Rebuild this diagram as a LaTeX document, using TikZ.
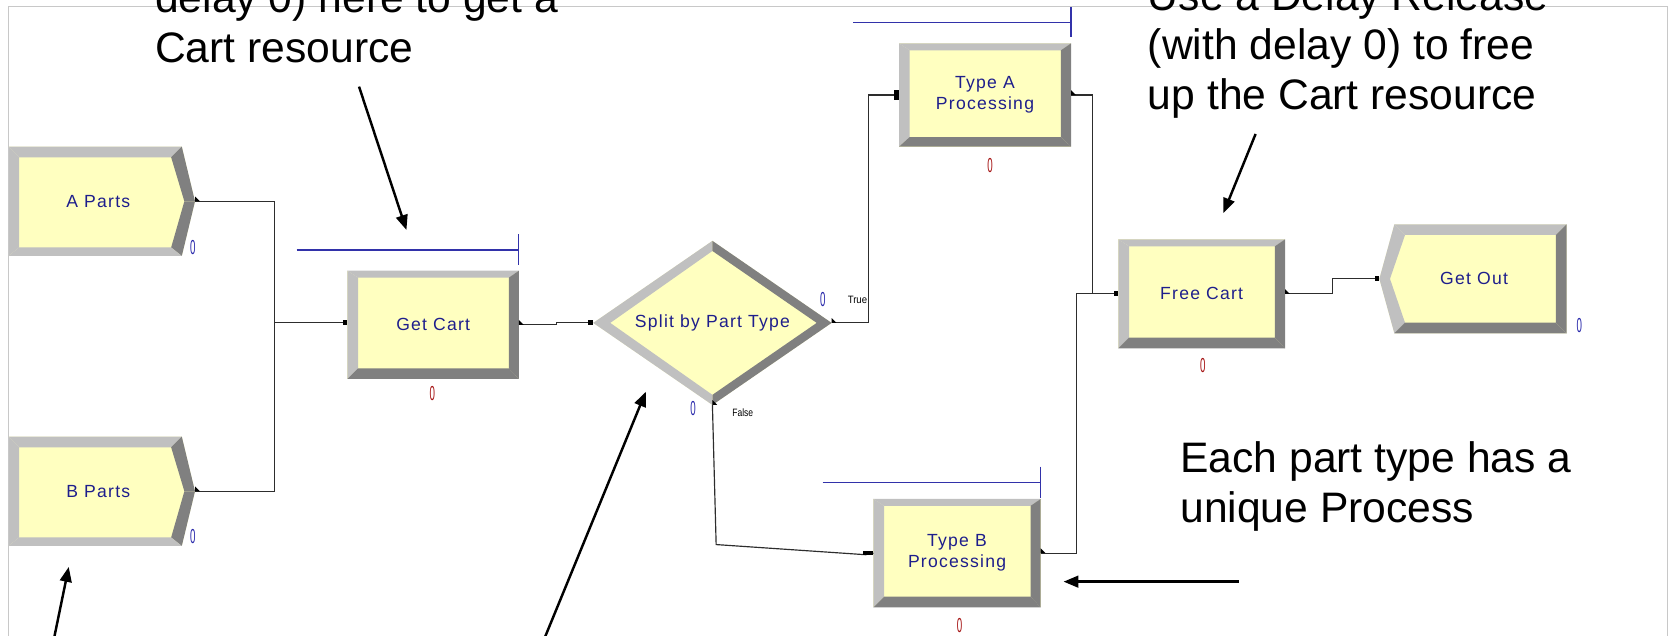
\documentclass[tikz,border=0pt]{standalone}
\usepackage{fontspec}
\usepackage{graphicx}
\setmainfont{Liberation Sans}
\newfontfamily\modfont[LetterSpace=7]{Liberation Sans}
\usetikzlibrary{shapes.geometric,arrows.meta}
\pgfdeclarelayer{bg}
\pgfsetlayers{bg,main}
\definecolor{modyellow}{RGB}{255,255,192}
\definecolor{bevlight}{RGB}{192,192,192}
\definecolor{bevdark}{RGB}{128,128,128}
\definecolor{labblue}{RGB}{30,30,140}
\definecolor{cntblue}{RGB}{40,40,170}
\definecolor{cntred}{RGB}{165,20,20}
\definecolor{qblue}{RGB}{50,50,170}
\definecolor{conn}{RGB}{45,45,45}
\definecolor{framegray}{RGB}{200,200,200}
\tikzset{
  module/.style={shape=rectangle, inner sep=0pt, outer sep=0pt,
    font=\modfont\fontsize{16.5}{19.6}\selectfont, text=labblue, align=center},
  decmodule/.style={shape=diamond, aspect=1.45, inner sep=0pt, outer sep=0pt,
    font=\modfont\fontsize{16.5}{19.6}\selectfont, text=labblue},
  counter/.style={inner sep=0pt, font=\fontsize{19}{19}\selectfont},
  connector/.style={draw=conn, line width=1.1pt},
  qline/.style={draw=qblue, line width=1.1pt},
  annot/.style={inner sep=0pt, anchor=base west, font=\fontsize{40}{47}\selectfont},
  callout/.style={draw=black, line width=2.3pt, -{Triangle[length=14pt,width=11pt]}},
  branchlabel/.style={inner sep=0pt, font=\fontsize{10}{10}\selectfont},
}
\newcommand{\zero}{\scalebox{0.48}[1]{0}}
% process box bevel: #1 node, #2 left, #3 top, #4 right, #5 bottom
\newcommand{\bevrect}[5]{%
  \fill[modyellow] (#1.north west) rectangle (#1.south east);
  \fill[bevlight] (#1.north west) -- (#1.north east) -- ([shift={(-#4,#3)}]#1.north east) -- ([shift={(#2,#3)}]#1.north west) -- cycle;
  \fill[bevlight] (#1.north west) -- ([shift={(#2,#3)}]#1.north west) -- ([shift={(#2,-#5)}]#1.south west) -- (#1.south west) -- cycle;
  \fill[bevdark] (#1.north east) -- (#1.south east) -- ([shift={(-#4,-#5)}]#1.south east) -- ([shift={(-#4,#3)}]#1.north east) -- cycle;
  \fill[bevdark] (#1.south west) -- (#1.south east) -- ([shift={(-#4,-#5)}]#1.south east) -- ([shift={(#2,-#5)}]#1.south west) -- cycle;
}
% create module (point to the right): #1 node, #2 point length
\newcommand{\bevcreate}[2]{%
  \fill[modyellow] (#1.north west) -- (#1.north east) -- ([shift={(#2,0)}]#1.east) -- (#1.south east) -- (#1.south west) -- cycle;
  \fill[bevlight] (#1.north west) -- (#1.north east) -- ([shift={(-10,10)}]#1.north east) -- ([shift={(10,10)}]#1.north west) -- cycle;
  \fill[bevlight] (#1.north west) -- ([shift={(10,10)}]#1.north west) -- ([shift={(10,-8)}]#1.south west) -- (#1.south west) -- cycle;
  \fill[bevdark] (#1.north east) -- ([shift={(#2,0)}]#1.east) -- ([shift={(#2-10,0)}]#1.east) -- ([shift={(-10,10)}]#1.north east) -- cycle;
  \fill[bevdark] ([shift={(#2,0)}]#1.east) -- (#1.south east) -- ([shift={(-10,-8)}]#1.south east) -- ([shift={(#2-10,0)}]#1.east) -- cycle;
  \fill[bevlight] (#1.south west) -- ([shift={(10,-8)}]#1.south west) -- ([shift={(-10,-8)}]#1.south east) -- (#1.south east) -- cycle;
}
% dispose module (point to the left): #1 node, #2 point length
\newcommand{\bevdispose}[2]{%
  \fill[modyellow] ([shift={(-#2,0)}]#1.west) -- (#1.north west) -- (#1.north east) -- (#1.south east) -- (#1.south west) -- cycle;
  \fill[bevlight] (#1.north west) -- (#1.north east) -- ([shift={(-10,10)}]#1.north east) -- ([shift={(10,10)}]#1.north west) -- cycle;
  \fill[bevlight] ([shift={(-#2,0)}]#1.west) -- (#1.north west) -- ([shift={(10,10)}]#1.north west) -- ([shift={(10-#2,0)}]#1.west) -- cycle;
  \fill[bevlight] ([shift={(-#2,0)}]#1.west) -- ([shift={(10-#2,0)}]#1.west) -- ([shift={(10,-10)}]#1.south west) -- (#1.south west) -- cycle;
  \fill[bevdark] (#1.north east) -- (#1.south east) -- ([shift={(-10,-10)}]#1.south east) -- ([shift={(-10,10)}]#1.north east) -- cycle;
  \fill[bevdark] (#1.south west) -- (#1.south east) -- ([shift={(-10,-10)}]#1.south east) -- ([shift={(10,-10)}]#1.south west) -- cycle;
}
% decide module: #1 node
\newcommand{\bevdiamond}[1]{%
  \fill[modyellow] (#1.west) -- (#1.north) -- (#1.east) -- (#1.south) -- cycle;
  \fill[bevlight] (#1.west) -- (#1.north) -- ([shift={(0,9.5)}]#1.north) -- ([shift={(16,0)}]#1.west) -- cycle;
  \fill[bevdark] (#1.north) -- (#1.east) -- ([shift={(-14,0)}]#1.east) -- ([shift={(0,9.5)}]#1.north) -- cycle;
  \fill[bevdark] (#1.east) -- (#1.south) -- ([shift={(0,-9.5)}]#1.south) -- ([shift={(-14,0)}]#1.east) -- cycle;
  \fill[bevlight] (#1.south) -- (#1.west) -- ([shift={(16,0)}]#1.west) -- ([shift={(0,-9.5)}]#1.south) -- cycle;
}
\newcommand{\entrymark}[1]{\fill[black] ([shift={(-4.5,-2.3)}]#1) rectangle ++(4.5,4.6);}
\newcommand{\exitmark}[1]{\fill[black] (#1) -- ++(4.5,0) -- ++(-4.5,-4.5) -- cycle;}

\begin{document}
\begin{tikzpicture}[x=1pt,y=-1pt]
\useasboundingbox (0,0) rectangle (1568,596);
\clip (0,0) rectangle (1568,596);

% frame
\draw[framegray, line width=1pt] (7.9,600) -- (7.9,6.3) -- (1565,6.3) -- (1565,600);

% modules
\node[module, minimum width=162.7pt, minimum height=102.6pt] (ap) at (89.25,188.9) {\hspace*{6pt}A Parts};
\node[module, minimum width=162.7pt, minimum height=102.6pt] (bp) at (89.25,461) {\hspace*{6pt}B Parts};
\node[module, minimum width=161pt, minimum height=101.6pt] (gc) at (406.5,304.8) {Get Cart};
\node[decmodule, minimum width=223.7pt, minimum height=154pt] (dec) at (668.5,303) {Split by Part Type};
\node[module, minimum width=161.4pt, minimum height=96.9pt] (ta) at (924.3,89.15) {Type A\\Processing};
\node[module, minimum width=156.9pt, minimum height=101.7pt] (tb) at (898.05,519.05) {Type B\\Processing};
\node[module, minimum width=156.4pt, minimum height=102.3pt] (fc) at (1127.6,275.75) {Free Cart};
\node[module, minimum width=161.6pt, minimum height=102.3pt] (go) at (1389.2,261.65) {Get Out\hspace*{12pt}};

\begin{pgfonlayer}{bg}
  \bevcreate{ap}{12.4}
  \bevcreate{bp}{12.4}
  \bevrect{gc}{10}{6.5}{9.5}{10}
  \bevrect{ta}{10}{6.5}{9.5}{9}
  \bevrect{tb}{10}{6.5}{9.5}{10}
  \bevrect{fc}{10}{6.5}{9.5}{10}
  \bevdiamond{dec}
  \bevdispose{go}{14.1}
\end{pgfonlayer}

% counters
\node[counter, text=cntblue] (cap) at (181,232.4) {\zero};
\node[counter, text=cntblue] (cbp) at (181,503.6) {\zero};
\node[counter, text=cntblue] (cdt) at (772,281.5) {\zero};
\node[counter, text=cntblue] (cdf) at (650.4,383) {\zero};
\node[counter, text=cntblue] (cgo) at (1482,305) {\zero};
\node[counter, text=cntred] (cgc) at (405.7,369) {\zero};
\node[counter, text=cntred] (cta) at (929,155.5) {\zero};
\node[counter, text=cntred] (ctb) at (900.4,586.5) {\zero};
\node[counter, text=cntred] (cfc) at (1128.6,343.4) {\zero};

% branch labels
\node[branchlabel] (ltrue) at (804.6,281) {\scalebox{0.9}[1]{True}};
\node[branchlabel] (lfalse) at (697,387) {\scalebox{0.8}[1]{False}};

% queue lines
\draw[qline] (278.3,234.6) -- (486.6,234.6);
\draw[qline] (486.6,219.9) -- (486.6,248.7);
\draw[qline] (800.5,21.3) -- (1005,21.3);
\draw[qline] (1005,6.9) -- (1005,35);
\draw[qline] (771.8,452.6) -- (976.5,452.6);
\draw[qline] (976.5,437.9) -- (976.5,467.6);

% connectors
\coordinate (apout) at ([xshift=12.4pt]ap.east);
\coordinate (bpout) at ([xshift=12.4pt]bp.east);
\coordinate (merge) at (257.9,302.5);
\coordinate (gcin) at (326,302.5);
\coordinate (trueturn) at (814.8,303);
\coordinate (falsebend) at (672,511);
\coordinate (falsebend2) at (812,520.5);
\coordinate (jA) at (1025,275.75);
\coordinate (jB) at (1009.8,275.75);
\coordinate (goin) at ([xshift=-14.1pt]go.west);

\draw[connector] (apout) -| (merge) -- (gcin);
\draw[connector] (bpout) -| (merge);
\draw[connector] (gc.east) -- ++(35.4,0) |- (dec.west);
\draw[connector] (dec.east) -- (trueturn) |- (ta.west);
\draw[connector] (dec.south) -- (falsebend) -- (falsebend2) -- (tb.west);
\draw[connector] (ta.east) -| (jA) -- (fc.west);
\draw[connector] (tb.east) -| (jB) -- (fc.west);
\draw[connector] (fc.east) -- ++(44.6,0) |- (goin);

% entry / exit markers
\entrymark{gcin}
\entrymark{dec.west}
\fill[black] ([shift={(-4.3,-4.7)}]ta.west) rectangle ++(4.3,9.4);
\fill[black] ([shift={(-10,-2)}]tb.west) rectangle ++(10,4);
\entrymark{fc.west}
\entrymark{goin}
\exitmark{apout}
\exitmark{bpout}
\exitmark{gc.east}
\exitmark{dec.east}
\exitmark{dec.south}
\exitmark{ta.east}
\exitmark{tb.east}
\exitmark{fc.east}

% annotation texts
\node[annot] (n1a) at (145.4,11.9) {delay 0) here to get a};
\node[annot] (n1b) at (145.4,58.8) {Cart resource};
\node[annot] (n2a) at (1077,9.4) {Use a Delay Release};
\node[annot] (n2b) at (1077,55.7) {(with delay 0) to free};
\node[annot] (n2c) at (1077,103.2) {up the Cart resource};
\node[annot] (n3a) at (1107.4,443.5) {Each part type has a};
\node[annot] (n3b) at (1107.4,490.1) {unique Process};

% callout arrows
\coordinate (a1s) at (336.9,81.3);   \coordinate (a1e) at (381.4,215.8);
\coordinate (a2s) at (1178.2,125.7); \coordinate (a2e) at (1148,200);
\coordinate (a3s) at (50.5,600);     \coordinate (a3e) at (64.5,532);
\coordinate (a4s) at (510.5,600);    \coordinate (a4e) at (606,367.5);
\coordinate (a5s) at (1162.2,545.8); \coordinate (a5e) at (998,545.8);
\draw[callout] (a1s) -- (a1e);
\draw[callout] (a2s) -- (a2e);
\draw[callout] (a3s) -- (a3e);
\draw[callout] (a4s) -- (a4e);
\draw[callout] (a5s) -- (a5e);
\end{tikzpicture}
\end{document}
